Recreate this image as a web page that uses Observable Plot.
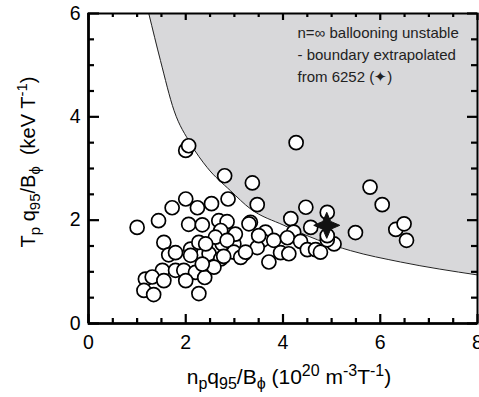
<!DOCTYPE html>
<html><head><meta charset="utf-8">
<script src="https://cdn.jsdelivr.net/npm/d3@7"></script>
<script src="https://cdn.jsdelivr.net/npm/@observablehq/plot@0.6"></script>
<style>body{margin:0;background:#fff} svg{display:block}</style>
</head><body><div id="chart"></div>
<script>
// Measured discharges (open circles)
const pointsX = [1.00,1.44,1.72,2.00,2.24,2.53,2.06,2.34,2.68,2.85,1.55,1.65,1.79,1.52,1.79,1.96,2.20,1.17,1.31,1.14,1.34,2.00,1.55,2.39,2.27,2.10,2.27,2.48,2.72,2.75,2.72,2.58,2.99,2.10,2.34,2.61,2.41,3.47,4.47,4.91,6.04,4.16,4.57,3.33,4.22,3.64,3.57,3.81,4.09,4.36,4.50,4.67,4.77,3.20,3.47,3.95,4.12,3.71,5.05,4.91,5.49,6.32,6.49,6.54,5.79,3.02,2.85,2.99,2.78,3.13,3.23,3.50,4.91,3.37,2.87,2.80,2.00,2.06,4.27,3.30];
const pointsY = [1.86,1.99,2.24,2.41,2.24,2.32,1.92,1.91,1.99,1.97,1.57,1.33,1.37,1.03,1.03,1.03,0.99,0.86,0.90,0.64,0.56,0.83,0.83,0.89,0.58,1.44,1.57,1.35,1.80,1.54,1.25,1.09,1.54,1.32,1.15,1.67,1.54,2.30,2.25,2.15,2.30,2.03,1.86,1.96,1.77,1.77,1.61,1.61,1.66,1.59,1.43,1.43,1.38,1.35,1.47,1.37,1.35,1.19,1.54,1.62,1.76,1.82,1.93,1.61,2.64,1.73,1.61,1.38,1.30,1.28,1.38,1.70,1.70,2.72,2.41,2.86,3.35,3.44,3.50,1.93];
// n=inf ballooning boundary
const boundaryX = [1.24,1.48,1.76,2.10,2.44,2.92,3.33,4.02,4.71,5.39,6.42,8.00];
const boundaryY = [6.00,5.09,4.12,3.48,3.02,2.57,2.22,1.90,1.62,1.41,1.19,0.94];
// reference discharge 6252
const starX = [4.90];
const starY = [1.90];
// ticks
const xMajor = [0,2,4,6,8];
const yMajor = [0,2,4,6];
const xMinor = [0.5,1,1.5,2.5,3,3.5,4.5,5,5.5,6.5,7,7.5];
const yMinor = [0.5,1,1.5,2.5,3,3.5,4.5,5,5.5];
const xDomain = [0, 8];
const yDomain = [0, 6];
const annotation = ["n=\u221E ballooning unstable", "- boundary extrapolated", "from 6252 (\u2726)"];

const points = pointsX.map((x, i) => ({x, y: pointsY[i]}));
const boundary = boundaryX.map((x, i) => ({x, y: boundaryY[i]}));
const star = starX.map((x, i) => ({x, y: starY[i]}));

const star4 = {
  draw(ctx, size) {
    const R = Math.sqrt(size / Math.PI), q = R * 0.3;
    ctx.moveTo(0, -R);
    ctx.lineTo(q, -q);
    ctx.lineTo(R, 0);
    ctx.lineTo(q, q);
    ctx.lineTo(0, R);
    ctx.lineTo(-q, q);
    ctx.lineTo(-R, 0);
    ctx.lineTo(-q, -q);
    ctx.closePath();
  }
};

const W = 479, H = 397, ML = 88, MR = 2, MT = 13, MB = 74;
const PW = W - ML - MR, PH = H - MT - MB;

const tickOpts = {stroke: "black", strokeWidth: 2.2};
const chart = Plot.plot({
  width: W,
  height: H,
  marginLeft: ML,
  marginRight: MR,
  marginTop: MT,
  marginBottom: MB,
  style: {fontFamily: "'Liberation Sans', Arial, Helvetica, sans-serif", fontSize: "19.5px", color: "black", background: "white", overflow: "visible"},
  x: {domain: xDomain, label: null, axis: null},
  y: {domain: yDomain, label: null, axis: null},
  marks: [
    Plot.areaY(boundary, {x: "x", y1: "y", y2: yDomain[1], fill: "#d8d8da", curve: "monotone-x"}),
    Plot.lineY(boundary, {x: "x", y: "y", stroke: "#222", strokeWidth: 1, curve: "monotone-x"}),
    Plot.dot(points, {x: "x", y: "y", r: 7, fill: "white", stroke: "black", strokeWidth: 1.7}),
    Plot.dot(star, {x: "x", y: "y", r: 13, symbol: star4, fill: "#111", stroke: "#111", strokeWidth: 1}),
    Plot.text([annotation.join("\n")], {frameAnchor: "top-left", dx: 209, dy: 9, textAnchor: "start", lineAnchor: "top", lineHeight: 1.47, fontSize: 15, fill: "#222"}),
    // inward ticks (insets leave only a short stub at the frame edge)
    Plot.tickX(xMajor, {insetTop: PH - 9, ...tickOpts}),
    Plot.tickX(xMinor, {insetTop: PH - 5, ...tickOpts}),
    Plot.tickX(xMajor, {insetBottom: PH - 7, ...tickOpts}),
    Plot.tickX(xMinor, {insetBottom: PH - 4, ...tickOpts}),
    Plot.tickY(yMajor, {insetRight: PW - 11, ...tickOpts}),
    Plot.tickY(yMinor, {insetRight: PW - 6, ...tickOpts}),
    Plot.tickY(yMajor, {insetLeft: PW - 10, ...tickOpts}),
    Plot.tickY(yMinor, {insetLeft: PW - 6, ...tickOpts}),
    Plot.frame({stroke: "black", strokeWidth: 2}),
    Plot.ruleX([xDomain[0]], {stroke: "black", strokeWidth: 2.6}),
    Plot.ruleY([yDomain[0]], {stroke: "black", strokeWidth: 2.6}),
    Plot.axisX(xMajor, {anchor: "bottom", tickSize: 0, tickPadding: 12, fontSize: 19.5, label: null, tickFormat: d => String(d)}),
    Plot.axisY(yMajor, {anchor: "left", tickSize: 0, tickPadding: 8, fontSize: 19.5, label: null, tickFormat: d => String(d)})
  ]
});
document.getElementById("chart").appendChild(chart);

// Axis titles with sub/superscripts
function rich(sel, parts, big, small) {
  let off = 0;
  for (const [s, kind] of parts) {
    const target = kind === "sub" ? 5 : kind === "sup" ? -8 : 0;
    sel.append("tspan")
      .attr("dy", target - off)
      .attr("font-size", kind === "n" ? big : small)
      .text(s);
    off = target;
  }
}
const svg = d3.select(chart);
const yt = svg.append("text")
  .attr("transform", "translate(35,162) rotate(-90)")
  .attr("text-anchor", "middle")
  .attr("fill", "black")
  .style("white-space", "pre");
rich(yt, [["T","n"],["p","sub"],[" q","n"],["95","sub"],["/B","n"],["\u03D5","sub"],["  (keV T","n"],["-1","sup"],[")","n"]], 20, 15);
const xt = svg.append("text")
  .attr("transform", "translate(289,384)")
  .attr("text-anchor", "middle")
  .attr("fill", "black")
  .style("white-space", "pre");
rich(xt, [["n","n"],["p","sub"],["q","n"],["95","sub"],["/B","n"],["\u03D5","sub"],[" (10","n"],["20","sup"],[" m","n"],["-3","sup"],["T","n"],["-1","sup"],[")","n"]], 21, 16);
</script>
</body></html>
